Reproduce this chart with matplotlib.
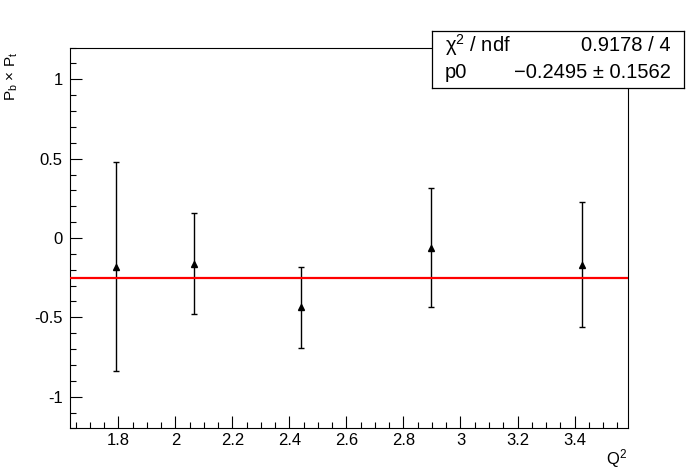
import matplotlib
matplotlib.use("Agg")
import matplotlib.pyplot as plt
from matplotlib.ticker import MultipleLocator

# graph points
q2 = [1.793, 2.067, 2.440, 2.898, 3.425]
pbpt = [-0.180, -0.162, -0.437, -0.061, -0.168]
pbpt_err = [0.659, 0.320, 0.257, 0.375, 0.393]

# pol0 fit result shown in the stats box
chi2 = 0.9178
ndf = 4
p0 = -0.2495
p0_err = 0.1562

plt.rcParams["font.family"] = ["Liberation Sans", "DejaVu Sans"]
plt.rcParams["mathtext.default"] = "regular"
plt.rcParams["axes.unicode_minus"] = False

fig = plt.figure(figsize=(6.98, 4.76), dpi=100)
ax = fig.add_axes([0.1, 0.1, 0.8, 0.8])

# ROOT-like x range: 10% of the span on each side
span = max(q2) - min(q2)
xmin = min(q2) - 0.1 * span
xmax = max(q2) + 0.1 * span

ax.errorbar(q2, pbpt, yerr=pbpt_err, fmt="^", color="black", ms=5,
            elinewidth=1.0, capsize=2, capthick=1.0, zorder=2)
ax.plot([xmin, xmax], [p0, p0], color="red", lw=1.6, zorder=3)

ax.set_xlim(xmin, xmax)
ax.set_ylim(-1.2, 1.2)

ax.xaxis.set_major_locator(MultipleLocator(0.2))
ax.xaxis.set_minor_locator(MultipleLocator(0.05))
ax.yaxis.set_major_locator(MultipleLocator(0.5))
ax.yaxis.set_minor_locator(MultipleLocator(0.1))
ax.yaxis.set_major_formatter(lambda v, pos: f"{v:g}")
ax.xaxis.set_major_formatter(lambda v, pos: f"{v:g}")

ax.tick_params(which="both", direction="in", top=False, right=False, width=0.8)
ax.tick_params(which="major", length=8.5, labelsize=12)
ax.tick_params(which="minor", length=4.3)
ax.tick_params(axis="x", pad=3)
ax.tick_params(axis="y", pad=5)
for s in ax.spines.values():
    s.set_linewidth(0.8)

ax.set_xlabel("Q$^{2}$", loc="right", fontsize=12)
ax.xaxis.set_label_coords(0.998, -0.05)
ax.xaxis.label.set_va("top")
ax.set_ylabel("P$_{b}$ × P$_{t}$", loc="top", fontsize=11)
ax.yaxis.set_label_coords(-0.089, 0.99)

# stats box
sax = fig.add_axes([432 / 698, 1 - 88 / 476, (684 - 432) / 698, 57 / 476])
sax.set_zorder(5)
sax.set_facecolor("white")
sax.set_xticks([])
sax.set_yticks([])
for s in sax.spines.values():
    s.set_linewidth(0.9)
fs = 14.5
sax.text(0.052, 0.75, "χ$^{2}$ / ndf", ha="left", va="center", fontsize=fs,
         transform=sax.transAxes)
sax.text(0.948, 0.75, f"{chi2:.4f} / {ndf}", ha="right", va="center",
         fontsize=fs, transform=sax.transAxes)
sax.text(0.052, 0.27, "p0", ha="left", va="center", fontsize=fs,
         transform=sax.transAxes)
sax.text(0.948, 0.27, f"{p0:.4f} ± {p0_err:.4f}".replace("-", "−"),
         ha="right", va="center", fontsize=fs, transform=sax.transAxes)

fig.savefig("out.png", dpi=100)
